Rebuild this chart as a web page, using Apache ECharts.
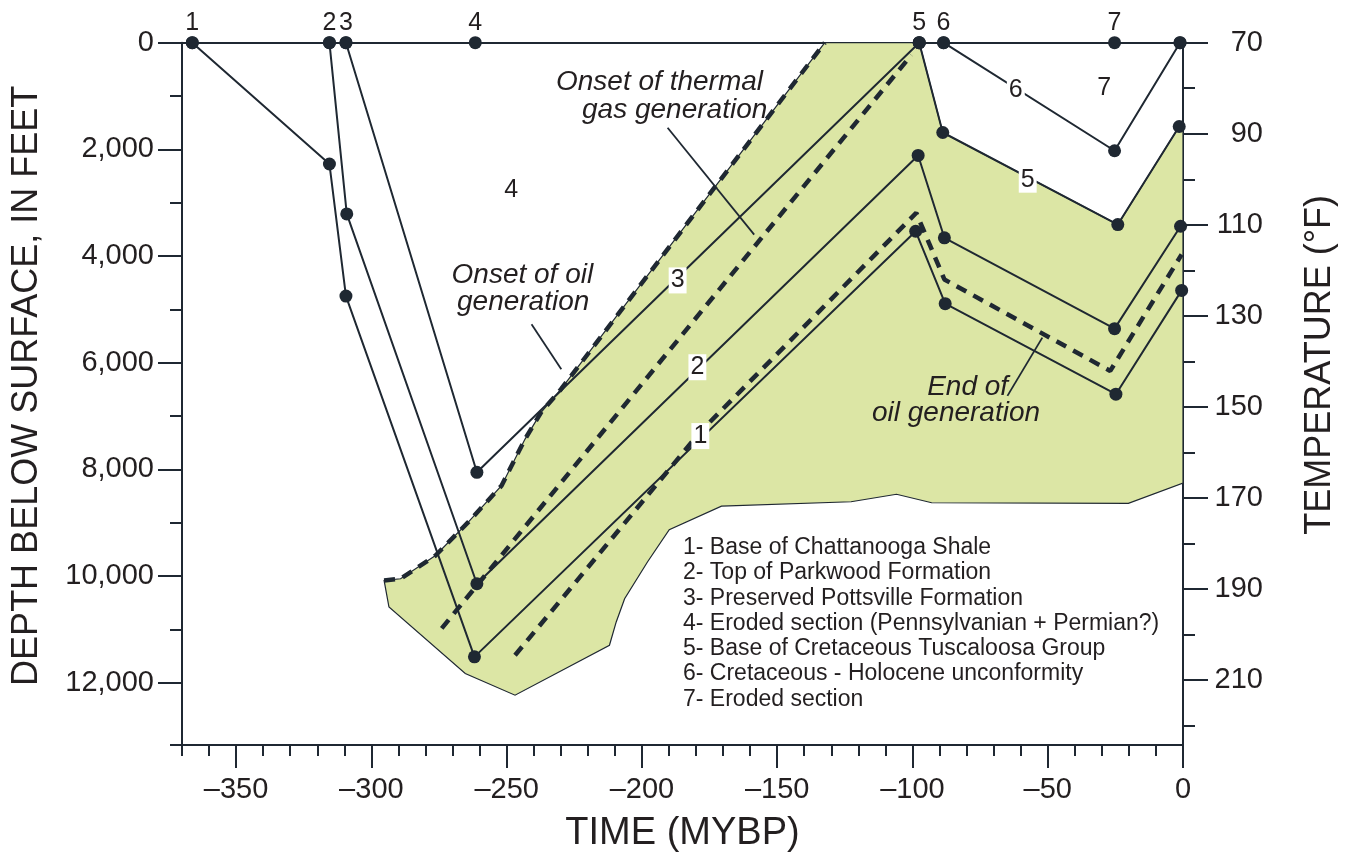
<!DOCTYPE html>
<html>
<head>
<meta charset="utf-8">
<script src="https://cdn.jsdelivr.net/npm/echarts@6/dist/echarts.min.js"></script>
<style>
html,body{margin:0;padding:0;background:#fff;overflow:hidden;}
#chart{width:1346px;height:858px;}
</style>
</head>
<body>
<div id="chart"></div>
<script>
// ---------- data (time in million years before present, depth in feet) ----------
const timeTicks = [-350, -300, -250, -200, -150, -100, -50, 0];
const timeMinorTicks = [-370, -360, -340, -330, -320, -310, -290, -280, -270, -260, -240, -230, -220, -210, -190, -180, -170, -160, -140, -130, -120, -110, -90, -80, -70, -60, -40, -30, -20, -10];
const depthTicks = [0, 2000, 4000, 6000, 8000, 10000, 12000];
const depthMinorTicks = [1000, 3000, 5000, 7000, 9000, 11000, 13170];
const tempTicks = [70, 90, 110, 130, 150, 170, 190, 210];
const tempMinorTicks = [80, 100, 120, 140, 160, 180, 200, 220];

const surfacePoints = [[-366.2, 0, '1'], [-315.5, 0, '2'], [-309.4, 0, '3'], [-261.6, 0, '4'], [-97.5, 0, '5'], [-88.5, 0, '6'], [-25.3, 0, '7'], [-1.1, 0, '']];
const horizon1 = [[-366.2, 0], [-315.5, 2275], [-309.4, 4752], [-261.9, 11517], [-98.8, 3536], [-87.9, 4894], [-24.8, 6591], [-0.5, 4645]];
const horizon2 = [[-315.5, 0], [-309.1, 3211], [-261.0, 10146], [-97.9, 2114], [-88.2, 3659], [-25.3, 5362], [-0.9, 3442]];
const horizon3 = [[-309.4, 0], [-261.0, 8056], [-97.5, 0]];
const horizon5 = [[-97.5, 0], [-88.8, 1684], [-24.1, 3411], [-1.4, 1572]];
const horizon6 = [[-88.5, 0], [-25.3, 2026], [-1.1, 0]];

const oilOnset = [[-295.3, 10084], [-289.2, 10052], [-276.3, 9617], [-264.1, 8986], [-251.9, 8307], [-243.2, 7433], [-237.2, 6928], [-229.9, 6498], [-132.4, 0]];
const gasOnset = [[-274.0, 10983], [-100.4, 230]];
const oilEnd = [[-246.9, 11487], [-178.4, 7296], [-98.6, 3192], [-88.2, 4440], [-26.9, 6155], [-0.5, 3972]];
// rest of the oil-window outline (after the onset-of-oil edge), clockwise
const oilWindowRest = [[-97.5, 0], [-88.8, 1684], [-24.1, 3411], [-1.4, 1572], [0, 1635], [0, 8260], [-20.2, 8640], [-92.9, 8627], [-105.9, 8468], [-122.7, 8608], [-170.6, 8690], [-189.9, 9132], [-197.9, 9734], [-206.4, 10427], [-209.5, 10862], [-212.0, 11300], [-246.9, 12236], [-265.3, 11830], [-293.5, 10582]];

const lineLabels = [[-186.8, 4458, '3'], [-179.5, 6086, '2'], [-178.4, 7377, '1'], [-57.4, 2569, '5'], [-61.8, 885, '6'], [-248.3, 2756, '4'], [-29.1, 848, '7']];
const notes = [[-193.5, 735, 'Onset of thermal'], [-187.9, 1259, 'gas generation'], [-244.2, 4365, 'Onset of oil'], [-243.9, 4870, 'generation'], [-79.6, 6460, 'End of'], [-83.9, 6947, 'oil generation']];
const leaders = [[[-190.5, 1596], [-158.5, 3598]], [[-240.8, 5282], [-229.8, 6124]], [[-52.0, 5530], [-64.9, 6623]]];
const legendItems = ['1- Base of Chattanooga Shale', '2- Top of Parkwood Formation', '3- Preserved Pottsville Formation', '4- Eroded section (Pennsylvanian + Permian?)', '5- Base of Cretaceous Tuscaloosa Group', '6- Cretaceous - Holocene unconformity', '7- Eroded section'];

// ---------- styling ----------
const INK = '#1f2832';
const TXT = '#231f20';
const FONT = "'Liberation Sans', Arial, Helvetica, sans-serif";
const GREEN = '#dce6a5';

const chart = echarts.init(document.getElementById('chart'), null, {renderer: 'canvas', width: 1346, height: 858});

const axisLine = {show: true, onZero: false, lineStyle: {color: INK, width: 2}};
const noLine = {show: false, onZero: false};
const majorTick = (vals, len) => ({show: true, customValues: vals, length: len, inside: false, lineStyle: {color: INK, width: 2}});

const option = {
  animation: false,
  backgroundColor: '#fff',
  textStyle: {fontFamily: FONT},
  grid: {left: 182, right: 158, top: 42.7, bottom: 111.3, containLabel: false},
  xAxis: [
    {
      type: 'value', min: -370, max: 0, position: 'bottom',
      axisLine: axisLine, splitLine: {show: false},
      axisTick: majorTick(timeTicks, 23),
      axisLabel: {customValues: timeTicks, margin: 30, fontSize: 29, color: TXT, fontFamily: FONT,
        formatter: v => v < 0 ? '\u2013' + Math.abs(v) : String(v)},
      name: 'TIME (MYBP)', nameLocation: 'middle', nameGap: 70,
      nameTextStyle: {fontSize: 38, color: TXT, fontFamily: FONT}
    },
    {
      type: 'value', min: -370, max: 0, position: 'bottom',
      axisLine: noLine, splitLine: {show: false},
      axisTick: majorTick(timeMinorTicks, 11),
      axisLabel: {show: false}
    },
    {
      type: 'value', min: -370, max: 0, position: 'top',
      axisLine: axisLine, splitLine: {show: false},
      axisTick: {show: false}, axisLabel: {show: false}
    }
  ],
  yAxis: [
    {
      type: 'value', min: 0, max: 13170, inverse: true, position: 'left',
      axisLine: axisLine, splitLine: {show: false},
      axisTick: majorTick(depthTicks, 24),
      axisLabel: {customValues: depthTicks, margin: 28, fontSize: 29, color: TXT, fontFamily: FONT,
        formatter: v => v.toLocaleString('en-US')},
      name: 'DEPTH BELOW SURFACE, IN FEET', nameLocation: 'middle', nameRotate: 90, nameGap: 137,
      nameTextStyle: {fontSize: 36, color: TXT, fontFamily: FONT, padding: [0, 0, 0, 16]}
    },
    {
      type: 'value', min: 0, max: 13170, inverse: true, position: 'left',
      axisLine: noLine, splitLine: {show: false},
      axisTick: majorTick(depthMinorTicks, 12),
      axisLabel: {show: false}
    },
    {
      type: 'value', min: 70, max: 224.25, inverse: true, position: 'right',
      axisLine: axisLine, splitLine: {show: false},
      axisTick: majorTick(tempTicks, 25),
      axisLabel: {customValues: tempTicks, margin: 80, align: 'right', fontSize: 29, color: TXT, fontFamily: FONT},
      name: 'TEMPERATURE (\u00B0F)', nameLocation: 'middle', nameRotate: 90, nameGap: 119,
      nameTextStyle: {fontSize: 36, color: TXT, fontFamily: FONT, padding: [0, 0, 0, 58]}
    },
    {
      type: 'value', min: 70, max: 224.25, inverse: true, position: 'right',
      axisLine: noLine, splitLine: {show: false},
      axisTick: majorTick(tempMinorTicks, 12),
      axisLabel: {show: false}
    }
  ],
  graphic: [
    {
      type: 'text', left: 683, top: 535, z: 100,
      style: {text: legendItems.join('\n'), font: "23px 'Liberation Sans', Arial, sans-serif", lineHeight: 25.3, fill: TXT}
    }
  ],
  series: []
};

const oilWindow = oilOnset.concat(oilWindowRest);

option.series.push({
  type: 'custom', name: 'oil window', silent: true, z: 1,
  xAxisIndex: 0, yAxisIndex: 0,
  data: [[0, 0]],
  renderItem: (params, api) => {
    const pts = oilWindow.map(p => api.coord(p));
    return {type: 'polygon', shape: {points: pts}, style: {fill: GREEN, stroke: INK, lineWidth: 1.2}};
  }
});

const dashed = (name, data) => ({
  type: 'line', name, data, z: 3, silent: true, symbol: 'none',
  lineStyle: {color: INK, width: 4.5, type: [11, 8], cap: 'butt'}
});
option.series.push(dashed('onset oil', oilOnset));
option.series.push(dashed('onset gas', gasOnset));
option.series.push(dashed('end oil', oilEnd));

const horizon = (name, data) => ({
  type: 'line', name, data, z: 4, silent: true,
  symbol: 'circle', symbolSize: 13, showAllSymbol: true,
  itemStyle: {color: INK, opacity: 1},
  lineStyle: {color: INK, width: 2}
});
[['1', horizon1], ['2', horizon2], ['3', horizon3], ['5', horizon5], ['6', horizon6]].forEach(h => option.series.push(horizon(h[0], h[1])));

leaders.forEach((l, i) => option.series.push({
  type: 'line', name: 'leader' + i, data: l, z: 4, silent: true, symbol: 'none',
  lineStyle: {color: INK, width: 1.8}
}));

option.series.push({
  type: 'scatter', name: 'surface', data: surfacePoints, z: 5, silent: true,
  symbol: 'circle', symbolSize: 13, itemStyle: {color: INK, opacity: 1},
  label: {show: true, position: 'top', distance: 1, formatter: p => p.data[2], fontSize: 25, color: TXT, fontFamily: FONT}
});

option.series.push({
  type: 'scatter', name: 'line labels', data: lineLabels, z: 6, silent: true,
  symbol: 'circle', symbolSize: 2, itemStyle: {color: 'rgba(0,0,0,0)', opacity: 1},
  label: {show: true, position: 'inside', formatter: p => p.data[2], fontSize: 25, color: TXT, fontFamily: FONT,
    backgroundColor: '#fff', padding: [1, 2, 0, 2]}
});

option.series.push({
  type: 'scatter', name: 'notes', data: notes, z: 6, silent: true,
  symbol: 'circle', symbolSize: 2, itemStyle: {color: 'rgba(0,0,0,0)', opacity: 1},
  label: {show: true, position: 'inside', formatter: p => p.data[2], fontSize: 28, fontStyle: 'italic', color: TXT, fontFamily: FONT}
});

chart.setOption(option);
</script>
</body>
</html>
